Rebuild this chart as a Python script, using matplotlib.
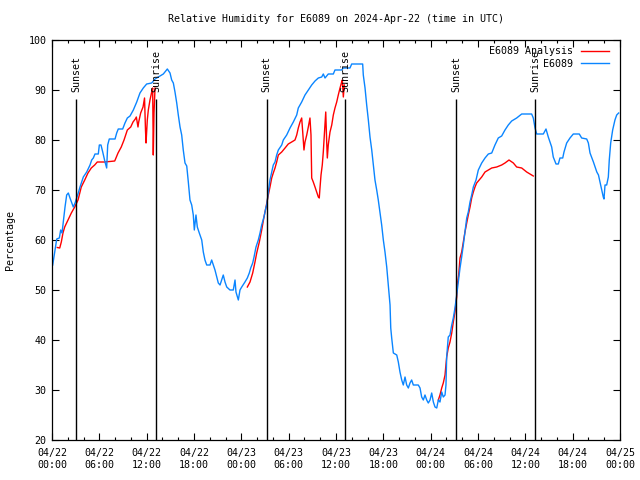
import numpy as np
import pandas as pd
import matplotlib
matplotlib.use("Agg")
import matplotlib.pyplot as plt
import matplotlib.dates as mdates

# station observations, hours after 2024-04-22 00:00 UTC
obs_hours = [0.09, 0.38, 0.60, 0.93, 1.10, 1.27, 1.43, 1.65, 1.86, 2.07,
             2.28, 2.70, 2.92, 3.13, 3.33, 3.55, 3.76, 3.97, 4.40, 4.82,
             5.03, 5.24, 5.45, 5.87, 6.00, 6.21, 6.43, 6.72, 6.93, 7.06,
             7.26, 7.99, 8.20, 8.40, 8.96, 9.25, 9.55, 9.89, 10.31, 10.74,
             11.15, 11.57, 12.00, 12.64, 13.06, 13.47, 14.11, 14.32, 14.62, 14.96,
             15.17, 15.38, 15.59, 15.81, 16.01, 16.23, 16.44, 16.64, 16.86, 17.08,
             17.28, 17.49, 17.71, 17.91, 18.04, 18.25, 18.42, 18.67, 18.98, 19.18,
             19.39, 19.61, 20.03, 20.24, 20.45, 20.66, 20.88, 21.08, 21.30, 21.51,
             21.71, 21.93, 22.15, 22.56, 22.98, 23.20, 23.32, 23.62, 23.83, 24.05,
             24.46, 24.76, 25.01, 25.19, 25.44, 25.61, 25.86, 26.15, 26.37, 26.58,
             26.87, 27.13, 27.22, 27.42, 27.63, 27.85, 28.05, 28.27, 28.48, 28.69,
             29.12, 29.32, 29.75, 30.17, 30.59, 31.02, 31.22, 31.65, 32.07, 32.49,
             32.92, 33.34, 33.76, 34.19, 34.39, 34.61, 35.02, 35.66, 35.87, 36.72,
             36.93, 37.77, 37.99, 39.38, 39.46, 39.68, 39.89, 40.10, 40.31, 40.53,
             40.73, 40.94, 41.16, 41.36, 41.58, 41.79, 42.00, 42.21, 42.43, 42.63,
             42.85, 42.94, 43.06, 43.27, 43.70, 43.90, 44.11, 44.33, 44.53, 44.75,
             44.96, 45.17, 45.38, 45.59, 45.80, 46.43, 46.65, 46.86, 47.07, 47.28,
             47.50, 47.70, 47.92, 48.13, 48.34, 48.55, 48.77, 48.97, 49.18, 49.40,
             49.60, 49.82, 49.94, 50.03, 50.23, 50.45, 50.67, 50.87, 51.08, 51.30,
             51.50, 51.72, 51.93, 52.14, 52.35, 52.57, 52.77, 52.99, 53.20, 53.41,
             53.75, 54.04, 54.47, 54.89, 55.31, 55.74, 56.15, 56.57, 57.00, 57.42,
             57.84, 58.27, 58.90, 59.54, 60.80, 61.01, 61.23, 61.44, 62.28, 62.62,
             62.91, 63.34, 63.54, 63.89, 64.18, 64.39, 64.74, 64.90, 65.24, 65.66,
             66.08, 66.84, 67.14, 67.78, 67.99, 68.20, 68.63, 69.06, 69.27, 69.46,
             69.68, 69.88, 69.97, 70.10, 70.31, 70.52, 70.64, 70.82, 71.07, 71.36,
             71.58, 71.83]
obs_rh = [55.0, 58.0, 60.2, 60.4, 62.0, 61.4, 63.6, 66.6, 69.0, 69.4,
          68.4, 66.6, 67.4, 68.4, 69.4, 70.6, 71.6, 72.6, 73.6, 75.0,
          76.0, 76.4, 77.2, 77.2, 79.0, 79.0, 77.6, 75.6, 74.4, 79.0,
          80.2, 80.2, 81.4, 82.2, 82.2, 83.4, 84.4, 84.8, 86.0, 87.6,
          89.4, 90.4, 91.2, 91.4, 92.2, 92.6, 93.2, 93.6, 94.2, 93.4,
          92.0, 91.4, 89.6, 87.4, 85.0, 82.6, 81.0, 78.0, 75.4, 74.8,
          71.6, 68.0, 67.0, 65.0, 62.0, 65.0, 62.6, 61.4, 60.0, 57.6,
          56.0, 55.0, 55.0, 56.0, 55.0, 54.0, 52.6, 51.4, 51.0, 52.0,
          53.0, 51.6, 50.6, 50.0, 50.0, 52.0, 49.6, 48.0, 50.0, 50.6,
          51.6, 52.4, 53.4, 54.4, 55.4, 56.6, 58.6, 60.0, 61.4, 63.0,
          64.6, 66.6, 67.0, 69.6, 72.0, 73.6, 75.0, 75.6, 77.0, 78.0,
          79.0, 80.0, 81.0, 82.4, 83.6, 85.0, 86.4, 87.6, 89.0, 90.0,
          91.0, 91.8, 92.4, 92.6, 93.2, 92.4, 93.2, 93.2, 94.0, 94.0,
          94.4, 94.4, 95.2, 95.2, 93.0, 90.4, 87.0, 84.0, 80.6, 78.0,
          75.0, 72.0, 70.0, 68.0, 65.4, 63.0, 60.0, 57.6, 54.6, 51.0,
          47.0, 42.4, 40.4, 37.4, 37.0, 35.6, 33.6, 32.0, 31.0, 32.6,
          31.0, 30.4, 31.4, 32.0, 31.0, 31.0, 30.4, 28.6, 28.0, 29.0,
          28.0, 27.4, 28.0, 29.4, 27.6, 26.6, 26.4, 28.0, 27.6, 29.6,
          28.6, 29.0, 31.0, 36.6, 40.6, 41.0, 43.0, 44.4, 46.4, 49.0,
          51.6, 54.4, 56.6, 59.0, 61.6, 64.4, 65.6, 67.6, 69.0, 70.6,
          72.0, 74.0, 75.4, 76.4, 77.2, 77.4, 79.0, 80.4, 80.8, 82.0,
          83.0, 83.8, 84.4, 85.2, 85.2, 84.4, 82.4, 81.2, 81.2, 82.2,
          80.6, 78.6, 76.6, 75.2, 75.2, 76.4, 76.4, 77.6, 79.4, 80.4,
          81.2, 81.2, 80.4, 80.2, 79.4, 77.4, 75.6, 73.6, 73.0, 71.6,
          70.0, 68.6, 68.2, 71.0, 71.0, 72.6, 76.0, 79.4, 82.0, 84.0,
          85.0, 85.4]

# analysis, one piece per night
an1_hours = [0.67, 0.98, 1.18, 1.39, 1.61, 2.03, 2.45, 2.88, 3.30, 3.71,
             4.15, 4.56, 4.98, 5.41, 5.74, 6.68, 7.95, 8.37, 8.78, 9.13,
             9.55, 9.98, 10.27, 10.56, 10.69, 10.90, 10.99, 11.24, 11.54, 11.73,
             11.85, 11.92, 12.08, 12.21, 12.42, 12.64, 12.76, 12.84, 12.93, 13.06]
an1_rh = [58.5, 58.4, 59.6, 61.4, 62.6, 64.0, 65.4, 66.6, 68.0, 70.6,
          72.0, 73.4, 74.4, 75.0, 75.6, 75.6, 75.8, 77.4, 78.6, 80.0,
          82.0, 82.6, 83.6, 84.2, 84.6, 82.6, 83.6, 85.4, 86.6, 88.4,
          82.0, 79.4, 84.0, 86.0, 88.0, 89.6, 90.4, 77.0, 85.4, 90.4]
an2_hours = [24.76, 25.10, 25.44, 25.73, 25.95, 26.28, 26.58, 26.87, 27.13, 27.42,
             27.63, 27.85, 28.05, 28.27, 28.48, 28.69, 29.12, 29.54, 29.95, 30.38,
             30.80, 31.02, 31.22, 31.44, 31.65, 31.78, 31.94, 32.07, 32.29, 32.49,
             32.70, 32.83, 32.92, 33.12, 33.34, 33.55, 33.76, 33.88, 33.97, 34.10,
             34.26, 34.39, 34.52, 34.70, 34.82, 34.90, 35.02, 35.24, 35.46, 35.66,
             35.87, 36.09, 36.29, 36.51, 36.72, 36.80, 36.93, 37.05]
an2_rh = [50.6, 51.6, 53.4, 55.6, 57.4, 59.6, 62.0, 64.6, 66.6, 69.0,
          70.6, 72.4, 73.4, 74.4, 75.6, 77.0, 77.6, 78.4, 79.2, 79.6,
          80.0, 81.0, 82.4, 83.6, 84.4, 81.6, 78.0, 79.6, 81.0, 82.6,
          84.4, 81.0, 72.4, 71.6, 70.6, 69.6, 68.6, 68.4, 70.4, 73.0,
          75.0, 77.6, 81.0, 85.6, 79.6, 76.4, 79.0, 81.6, 83.0, 85.0,
          86.4, 87.6, 89.0, 90.4, 91.6, 92.0, 88.6, 91.0]
an3_hours = [48.97, 49.18, 49.40, 49.60, 49.82, 49.91, 50.03, 50.23, 50.45, 50.67,
             50.87, 51.08, 51.30, 51.37, 51.55, 51.72, 51.93, 52.14, 52.35, 52.57,
             52.77, 52.99, 53.20, 53.41, 53.62, 53.83, 54.47, 54.89, 55.74, 56.37,
             57.00, 57.42, 57.93, 58.48, 58.90, 59.54, 60.17, 61.01]
an3_rh = [28.0, 29.0, 30.4, 31.4, 33.0, 34.6, 36.6, 38.4, 39.6, 41.4,
          43.6, 45.6, 48.6, 51.0, 53.0, 56.4, 57.6, 59.6, 61.6, 63.4,
          65.0, 66.6, 68.4, 69.6, 70.6, 71.4, 72.6, 73.6, 74.4, 74.6,
          75.0, 75.4, 76.0, 75.4, 74.6, 74.4, 73.6, 72.8]

sun_labels = ["Sunset", "Sunrise", "Sunset", "Sunrise", "Sunset", "Sunrise"]
sun_times = ["2024-04-22 03:05", "2024-04-22 13:13", "2024-04-23 03:13",
             "2024-04-23 13:08", "2024-04-24 03:13", "2024-04-24 13:16"]

start = pd.Timestamp("2024-04-22 00:00")


def to_time(hours):
    return start + pd.to_timedelta(np.asarray(hours), unit="h")


plt.rcParams["font.family"] = ["DejaVu Sans Mono"]
plt.rcParams["font.size"] = 7.2

fig = plt.figure(figsize=(6.4, 4.8), dpi=100)
ax = fig.add_axes([52 / 640, 40 / 480, 568 / 640, 400 / 480])

red = "#ff0000"
blue = "#0a85ff"
pieces = [(an1_hours, an1_rh), (an2_hours, an2_rh), (an3_hours, an3_rh)]
for i, (h, rh) in enumerate(pieces):
    ax.plot(to_time(h), rh, color=red, lw=1.0,
            label="E6089 Analysis" if i == 0 else None)
ax.plot(to_time(obs_hours), obs_rh, color=blue, lw=1.0, label="E6089")

# sunrise / sunset markers
for lab, t in zip(sun_labels, sun_times):
    tt = pd.Timestamp(t)
    ax.vlines(tt, 20, 88.2, color="black", lw=1.0, zorder=3)
    ax.text(tt, 89.6, lab, rotation=90, ha="center", va="bottom")

ax.set_xlim(start, start + pd.Timedelta(hours=72))
ax.set_ylim(20, 100)
ax.set_yticks(np.arange(20, 101, 10))
ax.xaxis.set_major_locator(mdates.HourLocator(byhour=range(0, 24, 6)))
ax.xaxis.set_minor_locator(mdates.HourLocator(byhour=range(0, 24, 2)))
ax.xaxis.set_major_formatter(mdates.DateFormatter("%m/%d\n%H:%M"))
ax.tick_params(which="both", direction="in", top=True, right=True, width=0.8)
ax.tick_params(which="major", length=5)
ax.tick_params(which="minor", length=2.5)
ax.tick_params(axis="x", pad=6)
ax.tick_params(axis="y", pad=4)
for s in ax.spines.values():
    s.set_linewidth(0.9)

ax.set_ylabel("Percentage", labelpad=10)
ax.set_title("Relative Humidity for E6089 on 2024-Apr-22 (time in UTC)",
             fontsize=7.2, pad=13)
ax.legend(loc="upper right", bbox_to_anchor=(0.993, 1.002), frameon=False,
          markerfirst=False, handlelength=2.8, labelspacing=0.25,
          borderaxespad=0.3, handletextpad=0.8)

plt.savefig("out.png", dpi=100)
